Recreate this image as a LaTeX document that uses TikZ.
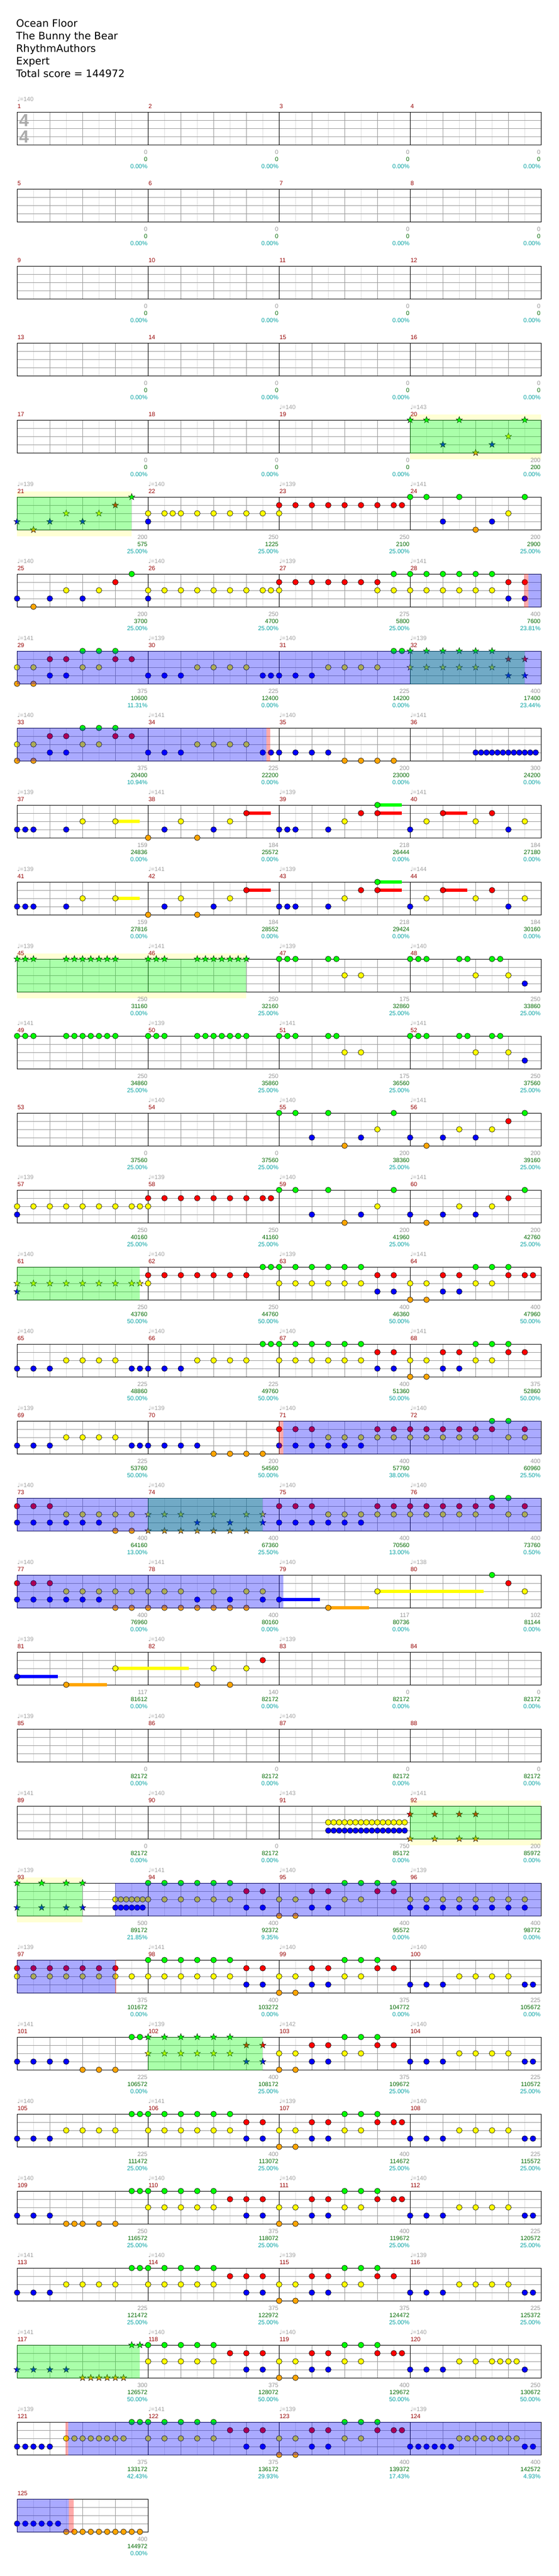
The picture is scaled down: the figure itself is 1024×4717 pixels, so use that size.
\documentclass[tikz,border=0pt]{standalone}
\usepackage{fontspec}
\setmainfont{Liberation Sans}
\newfontfamily\dv{DejaVu Sans}
\usetikzlibrary{shapes.geometric}
\definecolor{cg}{RGB}{0,255,0}
\definecolor{cr}{RGB}{255,0,0}
\definecolor{cy}{RGB}{255,255,0}
\definecolor{cb}{RGB}{0,0,255}
\definecolor{co}{RGB}{255,165,0}
\definecolor{ybg}{RGB}{255,255,212}
\definecolor{gl}{RGB}{222,222,222}
\definecolor{gm}{RGB}{155,155,155}
\definecolor{tgray}{RGB}{160,160,160}
\definecolor{lgray}{RGB}{150,150,150}
\definecolor{dgreen}{RGB}{0,105,0}
\definecolor{teal2}{RGB}{0,160,160}
\definecolor{mred}{RGB}{150,0,0}
\definecolor{sig}{RGB}{170,170,170}
\tikzset{
 notestyle/.style={draw=black, line width=0.6pt},
 starstyle/.style={star, star points=5, star point ratio=2.5, minimum size=12.5pt, inner sep=0pt, draw=black, line width=0.5pt},
 lbl/.style={inner sep=0pt}
}
% notes: row, lane, colour, list of 16th positions
\newcommand\qq[4]{\foreach \i in {#4}{\fill[#3, notestyle] ({31.3+15*\i},{205+141*(#1-1)+15*#2}) circle (5.2pt);}}
\newcommand\qG[2]{\qq{#1}{0}{cg}{#2}}
\newcommand\qR[2]{\qq{#1}{1}{cr}{#2}}
\newcommand\qY[2]{\qq{#1}{2}{cy}{#2}}
\newcommand\qB[2]{\qq{#1}{3}{cb}{#2}}
\newcommand\qO[2]{\qq{#1}{4}{co}{#2}}
% star notes
\newcommand\zz[4]{\foreach \i in {#4}{\node[starstyle, fill=#3] at ({31.3+15*\i},{205+141*(#1-1)+15*#2}) {};}}
\newcommand\zG[2]{\zz{#1}{0}{cg}{#2}}
\newcommand\zR[2]{\zz{#1}{1}{cr}{#2}}
\newcommand\zY[2]{\zz{#1}{2}{cy}{#2}}
\newcommand\zB[2]{\zz{#1}{3}{cb}{#2}}
\newcommand\zO[2]{\zz{#1}{4}{co}{#2}}
% sustain: row, lane, colour, from, to
\newcommand\SU[5]{\fill[#3] ({31.3+15*#4},{205+141*(#1-1)+15*#2-3.2}) rectangle ({31.3+15*#5},{205+141*(#1-1)+15*#2+3.2});}
% overlay: row, colour, from, to
\newcommand\OV[4]{\fill[#2, opacity=0.333] ({31.3+15*#3},{205+141*(#1-1)-0.5}) rectangle ({31.3+15*#4},{205+141*(#1-1)+61});}
% yellow background: row, from, to
\newcommand\YB[3]{\fill[ybg] ({31.3+15*#2},{205+141*(#1-1)-10}) rectangle ({31.3+15*#3},{205+141*(#1-1)+71.5});}
% staff: row, number of measures
\newcommand\staff[2]{%
 \pgfmathsetmacro\rT{205+141*(#1-1)}%
 \pgfmathsetmacro\rW{240*#2}%
 \pgfmathtruncatemacro\rE{8*#2-1}%
 \pgfmathtruncatemacro\rQ{4*#2-1}%
 \fill[white] (31.3,\rT) rectangle ({31.3+\rW},{\rT+60.5});
 \foreach \k in {1,...,\rE}{\draw[gl, line width=0.8pt] ({31.3+30*\k},\rT) -- ++(0,60.5);}
 \foreach \k in {1,...,\rQ}{\draw[gm, line width=0.8pt] ({31.3+60*\k},\rT) -- ++(0,60.5);}
 \foreach \yy in {15,30,45}{\draw[gm, line width=0.8pt] (31.3,{\rT+\yy}) -- ++(\rW,0);}
 \ifnum#2>1 \foreach \k in {1,2,3}{\draw[black, line width=0.9pt] ({31.3+240*\k},\rT) -- ++(0,60.5);}\fi
 \draw[black, line width=0.9pt] (31.3,\rT) rectangle ({31.3+\rW},{\rT+60.5});
}
% labels under a measure: row, measure (0-3), value, score, percent
\newcommand\LB[5]{%
 \node[lbl, anchor=base east, text=lgray] at ({31.3+240*(#2+1)-1},{205+141*(#1-1)+77}) {#3};
 \node[lbl, anchor=base east, text=dgreen] at ({31.3+240*(#2+1)-1},{205+141*(#1-1)+90}) {#4};
 \node[lbl, anchor=base east, text=teal2] at ({31.3+240*(#2+1)-1},{205+141*(#1-1)+103}) {#5\%};}
% tempo: row, measure, value
\newcommand\TP[3]{\node[lbl, anchor=base west, text=tgray] at ({31.3+240*#2},{205+141*(#1-1)-20}) {{\dv ♩}=#3};}
\newcommand\TPR[5]{\TP{#1}{0}{#2}\TP{#1}{1}{#3}\TP{#1}{2}{#4}\TP{#1}{3}{#5}}
% measure number
\newcommand\MN[3]{\node[lbl, anchor=base west, text=mred] at ({31.8+240*#2},{205+141*(#1-1)-6.5}) {#3};}
\begin{document}
\begin{tikzpicture}[x=1pt, y=-1pt, font=\fontsize{11}{13}\selectfont]
\useasboundingbox (0,0) rectangle (1024,4717);
\fill[white] (0,0) rectangle (1024,4717);
% ---------- title ----------
\begin{scope}[every node/.style={lbl, anchor=base west, font=\dv\fontsize{18.7}{22}\selectfont}]
\node (t1) at (29.5,49) {Ocean Floor};
\node (t2) at (29.5,72) {The Bunny the Bear};
\node (t3) at (29.5,95) {RhythmAuthors};
\node (t4) at (29.5,118) {Expert};
\node (t5) at (29.5,141) {Total score = 144972};
\end{scope}
% ---------- yellow backgrounds ----------
\YB{5}{48}{64} \YB{6}{0}{14} \YB{12}{0}{28} \YB{23}{48}{64} \YB{24}{0}{8}
% ---------- staves ----------
\foreach \r in {1,...,31}{\staff{\r}{4}}
\staff{32}{1}
% time signature
\node[lbl, text=sig, font=\bfseries\fontsize{32}{32}\selectfont] (ts1) at (44,220.5) {4};
\node[lbl, text=sig, font=\bfseries\fontsize{32}{32}\selectfont] (ts2) at (44,250) {4};
% ---------- sustains ----------
\foreach \r in {10,11}{\SU{\r}{2}{cy}{12}{15}\SU{\r}{1}{cr}{28}{31}\SU{\r}{1}{cr}{44}{47}\SU{\r}{0}{cg}{44}{47}\SU{\r}{1}{cr}{52}{55}}
\SU{20}{3}{cb}{32}{37} \SU{20}{4}{co}{38}{43} \SU{20}{2}{cy}{44}{57}
\SU{21}{3}{cb}{0}{5} \SU{21}{4}{co}{6}{11} \SU{21}{2}{cy}{12}{21}
% ---------- notes ----------
% row 5
\zG{5}{48,50,54,62} \zB{5}{52,58} \zO{5}{56} \zY{5}{60}
% row 6
\zB{6}{0,4,8} \zO{6}{2} \zY{6}{6,10} \zR{6}{12} \zG{6}{14}
\qY{6}{16,18,19,20,22,24,26,28,30,32,60} \qB{6}{16,52,58} \qR{6}{32,34,36,38,40,42,44,46,47} \qG{6}{48,50,54,62} \qO{6}{56}
% row 7
\qB{7}{0,4,8,16,60,62} \qO{7}{2} \qY{7}{6,10,16,18,20,22,24,26,28,30,31,32,44,46,48,50,52,54,56,58} \qR{7}{12,32,34,36,38,40,42,44,60,62} \qG{7}{14,46,48,50,52,54,56,58}
% row 8
\qY{8}{0,2,8,10,22,24,26,28,38,40,42,44} \qO{8}{0,2} \qB{8}{4,6,16,18,20,30,31,32,34,36} \qR{8}{4,6,12,14} \qG{8}{8,10,12,46,47}
\zG{8}{48,50,52,54,56,58} \zY{8}{48,50,52,54,56,58} \zR{8}{60,62} \zB{8}{60,62}
% row 9
\qY{9}{0,2,8,10,22,24,26,28} \qO{9}{0,2,40,42,44,46} \qR{9}{4,6,12,14} \qG{9}{8,10,12}
\qB{9}{4,6,16,18,20,30,31,32,34,36,38,56,56.667,57.333,58,58.667,59.333,60,60.667,61.333,62,62.667,63.333}
% rows 10, 11
\foreach \r in {10,11}{\qB{\r}{0,1,2,6,18,24,32,33,34,38,48,60}\qY{\r}{8,12,20,26,40,50,56,62}\qO{\r}{16,22}\qR{\r}{28,42,44,52,58}\qG{\r}{44}}
% row 12
\zG{12}{0,1,2,6,7,8,9,10,11,12,16,17,18,22,23,24,25,26,27,28}
\qG{12}{32,33,34,38,39,48,49,50,54,55,58,59} \qY{12}{40,42,56,60} \qB{12}{62}
% row 13
\qG{13}{0,1,2,6,7,8,9,10,11,12,16,17,18,22,23,24,25,26,27,28,32,33,34,38,39,48,49,50,54,55,58,59} \qY{13}{40,42,56,60} \qB{13}{62}
% row 14
\qG{14}{32,34,38,46,62} \qB{14}{36,42,48,52,56} \qO{14}{40,50} \qY{14}{44,54,58} \qR{14}{60}
% row 15
\qY{15}{0,2,4,6,8,10,12,14,15,16,44,54,58} \qB{15}{0,36,42,48,52,56} \qR{15}{16,18,20,22,24,26,28,30,31,60} \qG{15}{32,34,38,46,62} \qO{15}{40,50}
% row 16
\zY{16}{0,2,4,6,8,10,12,14,15} \zB{16}{0}
\qY{16}{16,32,34,36,38,40,42,48,50,56,58} \qR{16}{16,18,20,22,24,26,28,44,46,52,54,60,62,63} \qG{16}{30,31,32,34,36,38,40,42,56,58,60} \qB{16}{44,46,52,54} \qO{16}{48,50}
% row 17
\qB{17}{0,2,4,14,15,16,18,20,44,46,52,54} \qY{17}{6,8,10,12,22,24,26,28,32,34,36,38,40,42,48,50,56,58} \qG{17}{30,31,32,34,36,38,40,42,56,58,60} \qR{17}{44,46,52,54,60,62} \qO{17}{48,50}
% row 18
\qB{18}{0,2,4,14,15,16,18,20,22,32,34,36,38,40,42} \qY{18}{6,8,10,12,38,40,42,44,46,48,50,52,54,56,60,62} \qO{18}{24,26,28,30} \qR{18}{32,34,36,44,46,48,50,52,54,56,58,62} \qG{18}{58,60}
% row 19
\qR{19}{0,2,4,32,34,36,44,46,48,50,52,54,56,58,62} \qB{19}{0,2,4,6,8,10,32,34,36,38,40,42} \qY{19}{6,8,10,12,14,38,40,42,44,46,48,50,52,54,56,60,62} \qO{19}{12,14} \qG{19}{58,60}
\zY{19}{16,18,20,24,28,30} \zO{19}{16,18,20,22,24,26,28} \zB{19}{22,26,30}
% row 20
\qR{20}{0,2,4,60} \qB{20}{0,2,4,6,8,10,22,26,30,32} \qY{20}{6,8,10,12,14,16,18,20,24,28,30,44,62} \qO{20}{12,14,16,18,20,22,24,26,28,38} \qG{20}{58}
% row 21
\qB{21}{0} \qO{21}{6,22,26} \qY{21}{12,24,28} \qR{21}{30}
% row 23
\qY{23}{38,38.667,39.333,40,40.667,41.333,42,42.667,43.333,44,44.667,45.333,46,46.667,47.333}
\qB{23}{38,38.667,39.333,40,40.667,41.333,42,42.667,43.333,44,44.667,45.333,46,46.667,47.333}
\zR{23}{48,51,54,56} \zO{23}{48,51,54,56}
% row 24
\zG{24}{0,3,6,8} \zB{24}{0,3,6,8}
\qY{24}{12,12.667,13.333,14,14.667,15.333,16,18,20,22,24,26,32,34,40,42,48,50,52,54,56,58,60,62}
\qB{24}{12,12.667,13.333,14,14.667,15.333,28,30,36,38,48,50,52,54,56,58,60,62}
\qG{24}{16,18,20,22,24,26,40,42,44,46} \qR{24}{28,30,36,38,44,46} \qO{24}{32,34}
% row 25
\qR{25}{0,2,4,6,8,10,12,28,30,36,38,44,46} \qY{25}{0,2,4,6,8,10,12,14,16,18,20,22,24,26,32,34,40,42,54,56,58,60} \qG{25}{16,18,20,22,24,26,40,42,44} \qB{25}{28,30,36,38,48,50,52,62,63} \qO{25}{32,34}
% row 26
\qB{26}{0,2,4,6,36,38,48,50,52,62,63} \qO{26}{8,10,12,32,34} \qG{26}{14,15,40,42,44} \qY{26}{32,34,40,42,54,56,58,60} \qR{26}{36,38,44,46}
\zG{26}{16,18,20,22,24,26} \zY{26}{16,18,20,22,24,26} \zR{26}{28,30} \zB{26}{28,30}
% row 27
\qB{27}{0,2,4,28,30,36,38,48,50,52,62,63} \qY{27}{6,8,10,12,16,18,20,22,24,26,32,34,40,42,54,56,58,60} \qG{27}{14,15,16,18,20,22,24,26,40,42,44} \qR{27}{28,30,36,38,44,46,47} \qO{27}{32,34}
% row 28
\qB{28}{0,2,4,28,30,36,38,48,50,52,62,63} \qO{28}{6,7,8,10,12,32,34} \qG{28}{14,15,16,18,20,22,24,40,42,44} \qY{28}{16,18,20,22,24,32,34,40,42,54,56,58,60} \qR{28}{26,28,30,36,38,44,46,47}
% row 29
\qB{29}{0,2,4,28,30,36,38,48,50,52,62,63} \qY{29}{6,8,10,12,16,18,20,22,24,32,34,40,42,54,56,58,60} \qG{29}{14,15,16,18,20,22,24,40,42,44} \qR{29}{26,28,30,36,38,44,46} \qO{29}{32,34}
% row 30
\zB{30}{0,2,4,6} \zO{30}{8,9,10,11,12,13} \zG{30}{14,15}
\qG{30}{16,18,20,22,24,40,42,44} \qY{30}{16,18,20,22,24,32,34,40,42,54,56,58,59,60,61} \qR{30}{26,28,30,36,38,44,46,47} \qB{30}{28,30,36,38,48,50,52,62} \qO{30}{32,34}
% row 31
\qB{31}{0,1,2,3,4,28,30,36,38,48,49,50,51,52,53,62,63} \qY{31}{6,7,8,9,10,11,12,13,16,18,20,22,24,32,34,40,42,54,55,56,57,58,59,60,61} \qG{31}{14,15,16,18,20,22,24,40,42,44} \qR{31}{26,28,30,36,38,44,46,47} \qO{31}{32,34}
% row 32
\qB{32}{0,1,2,3,4,5} \qO{32}{6,7,8,9,10,11,12,13,14,15}
% ---------- overlays ----------
\OV{5}{cg}{48}{64} \OV{6}{cg}{0}{14} \OV{8}{cg}{48}{62} \OV{12}{cg}{0}{28} \OV{16}{cg}{0}{15}
\OV{19}{cg}{16}{30} \OV{23}{cg}{48}{64} \OV{24}{cg}{0}{8} \OV{26}{cg}{16}{30} \OV{30}{cg}{0}{15}
\OV{7}{cb}{62.45}{64} \OV{8}{cb}{0}{64} \OV{9}{cb}{0}{30.47} \OV{18}{cb}{32.5}{64} \OV{19}{cb}{0}{64}
\OV{20}{cb}{0}{32.5} \OV{24}{cb}{12}{64} \OV{25}{cb}{0}{12} \OV{31}{cb}{6.25}{64} \OV{32}{cb}{0}{6.31}
\OV{7}{cr}{61.92}{62.45} \OV{9}{cr}{30.47}{30.91} \OV{18}{cr}{32}{32.5} \OV{25}{cr}{12}{12.13}
\OV{31}{cr}{5.91}{6.25} \OV{32}{cr}{6.31}{6.91}
% ---------- measure numbers ----------
\foreach \r in {1,...,31}{\foreach \m in {0,...,3}{\pgfmathtruncatemacro\mn{4*(\r-1)+\m+1}\MN{\r}{\m}{\mn}}}
\MN{32}{0}{125}
% ---------- tempos ----------
\TP{1}{0}{140}
\TP{5}{2}{140} \TP{5}{3}{143}
\TPR{6}{139}{140}{139}{141}
\TPR{7}{140}{140}{139}{141}
\TPR{8}{141}{139}{140}{139}
\TPR{9}{140}{141}{140}{141}
\TPR{10}{139}{141}{139}{141}
\TPR{11}{139}{141}{139}{144}
\TPR{12}{139}{141}{139}{140}
\TPR{13}{141}{139}{141}{141}
\TP{14}{1}{140} \TP{14}{2}{140} \TP{14}{3}{141}
\TPR{15}{139}{139}{140}{141}
\TPR{16}{140}{140}{139}{141}
\TPR{17}{140}{140}{140}{141}
\TPR{18}{139}{139}{140}{140}
\TPR{19}{140}{140}{140}{140}
\TPR{20}{140}{141}{140}{138}
\TP{21}{0}{139} \TP{21}{1}{140} \TP{21}{2}{139}
\TP{22}{0}{139} \TP{22}{1}{140} \TP{22}{2}{140}
\TPR{23}{141}{140}{143}{141}
\TPR{24}{139}{141}{140}{139}
\TPR{25}{139}{141}{140}{140}
\TPR{26}{141}{139}{142}{140}
\TPR{27}{140}{141}{139}{140}
\TPR{28}{140}{140}{140}{140}
\TPR{29}{141}{140}{139}{139}
\TPR{30}{141}{140}{140}{140}
\TPR{31}{139}{141}{139}{139}
% ---------- labels ----------
\foreach \r in {1,...,4}{\foreach \m in {0,...,3}{\LB{\r}{\m}{0}{0}{0.00}}}
\LB{5}{0}{0}{0}{0.00} \LB{5}{1}{0}{0}{0.00} \LB{5}{2}{0}{0}{0.00} \LB{5}{3}{200}{200}{0.00}
\LB{6}{0}{200}{575}{25.00} \LB{6}{1}{250}{1225}{25.00} \LB{6}{2}{250}{2100}{25.00} \LB{6}{3}{200}{2900}{25.00}
\LB{7}{0}{200}{3700}{25.00} \LB{7}{1}{250}{4700}{25.00} \LB{7}{2}{275}{5800}{25.00} \LB{7}{3}{400}{7600}{23.81}
\LB{8}{0}{375}{10600}{11.31} \LB{8}{1}{225}{12400}{0.00} \LB{8}{2}{225}{14200}{0.00} \LB{8}{3}{400}{17400}{23.44}
\LB{9}{0}{375}{20400}{10.94} \LB{9}{1}{225}{22200}{0.00} \LB{9}{2}{200}{23000}{0.00} \LB{9}{3}{300}{24200}{0.00}
\LB{10}{0}{159}{24836}{0.00} \LB{10}{1}{184}{25572}{0.00} \LB{10}{2}{218}{26444}{0.00} \LB{10}{3}{184}{27180}{0.00}
\LB{11}{0}{159}{27816}{0.00} \LB{11}{1}{184}{28552}{0.00} \LB{11}{2}{218}{29424}{0.00} \LB{11}{3}{184}{30160}{0.00}
\LB{12}{0}{250}{31160}{0.00} \LB{12}{1}{250}{32160}{25.00} \LB{12}{2}{175}{32860}{25.00} \LB{12}{3}{250}{33860}{25.00}
\LB{13}{0}{250}{34860}{25.00} \LB{13}{1}{250}{35860}{25.00} \LB{13}{2}{175}{36560}{25.00} \LB{13}{3}{250}{37560}{25.00}
\LB{14}{0}{0}{37560}{25.00} \LB{14}{1}{0}{37560}{25.00} \LB{14}{2}{200}{38360}{25.00} \LB{14}{3}{200}{39160}{25.00}
\LB{15}{0}{250}{40160}{25.00} \LB{15}{1}{250}{41160}{25.00} \LB{15}{2}{200}{41960}{25.00} \LB{15}{3}{200}{42760}{25.00}
\LB{16}{0}{250}{43760}{50.00} \LB{16}{1}{250}{44760}{50.00} \LB{16}{2}{400}{46360}{50.00} \LB{16}{3}{400}{47960}{50.00}
\LB{17}{0}{225}{48860}{50.00} \LB{17}{1}{225}{49760}{50.00} \LB{17}{2}{400}{51360}{50.00} \LB{17}{3}{375}{52860}{50.00}
\LB{18}{0}{225}{53760}{50.00} \LB{18}{1}{200}{54560}{50.00} \LB{18}{2}{400}{57760}{38.00} \LB{18}{3}{400}{60960}{25.50}
\LB{19}{0}{400}{64160}{13.00} \LB{19}{1}{400}{67360}{25.50} \LB{19}{2}{400}{70560}{13.00} \LB{19}{3}{400}{73760}{0.50}
\LB{20}{0}{400}{76960}{0.00} \LB{20}{1}{400}{80160}{0.00} \LB{20}{2}{117}{80736}{0.00} \LB{20}{3}{102}{81144}{0.00}
\LB{21}{0}{117}{81612}{0.00} \LB{21}{1}{140}{82172}{0.00} \LB{21}{2}{0}{82172}{0.00} \LB{21}{3}{0}{82172}{0.00}
\foreach \m in {0,...,3}{\LB{22}{\m}{0}{82172}{0.00}}
\LB{23}{0}{0}{82172}{0.00} \LB{23}{1}{0}{82172}{0.00} \LB{23}{2}{750}{85172}{0.00} \LB{23}{3}{200}{85972}{0.00}
\LB{24}{0}{500}{89172}{21.85} \LB{24}{1}{400}{92372}{9.35} \LB{24}{2}{400}{95572}{0.00} \LB{24}{3}{400}{98772}{0.00}
\LB{25}{0}{375}{101672}{0.00} \LB{25}{1}{400}{103272}{0.00} \LB{25}{2}{375}{104772}{0.00} \LB{25}{3}{225}{105672}{0.00}
\LB{26}{0}{225}{106572}{0.00} \LB{26}{1}{400}{108172}{25.00} \LB{26}{2}{375}{109672}{25.00} \LB{26}{3}{225}{110572}{25.00}
\LB{27}{0}{225}{111472}{25.00} \LB{27}{1}{400}{113072}{25.00} \LB{27}{2}{400}{114672}{25.00} \LB{27}{3}{225}{115572}{25.00}
\LB{28}{0}{250}{116572}{25.00} \LB{28}{1}{375}{118072}{25.00} \LB{28}{2}{400}{119672}{25.00} \LB{28}{3}{225}{120572}{25.00}
\LB{29}{0}{225}{121472}{25.00} \LB{29}{1}{375}{122972}{25.00} \LB{29}{2}{375}{124472}{25.00} \LB{29}{3}{225}{125372}{25.00}
\LB{30}{0}{300}{126572}{50.00} \LB{30}{1}{375}{128072}{50.00} \LB{30}{2}{400}{129672}{50.00} \LB{30}{3}{250}{130672}{50.00}
\LB{31}{0}{375}{133172}{42.43} \LB{31}{1}{375}{136172}{29.93} \LB{31}{2}{400}{139372}{17.43} \LB{31}{3}{400}{142572}{4.93}
\LB{32}{0}{400}{144972}{0.00}
\end{tikzpicture}
\end{document}
